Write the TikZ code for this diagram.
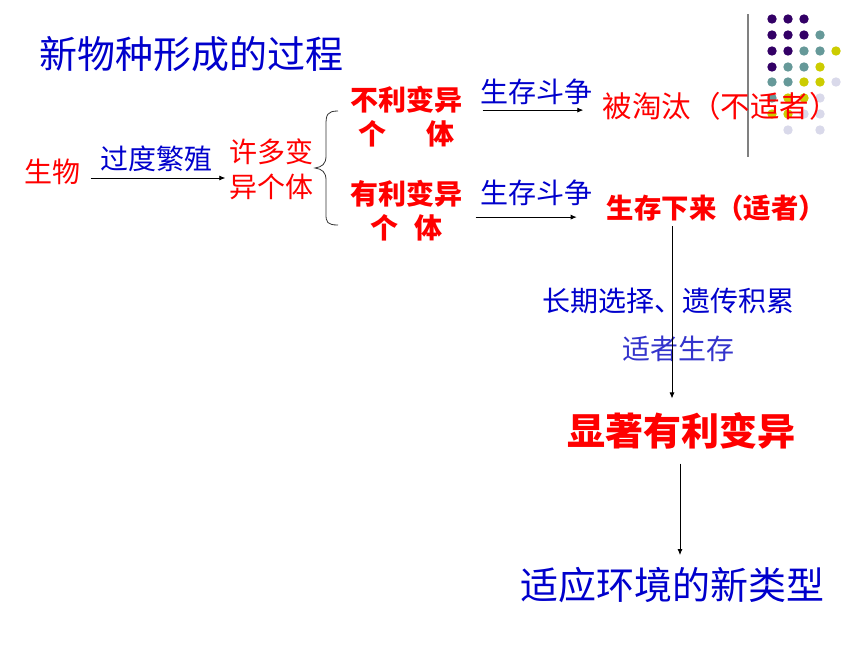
\documentclass[tikz,border=0pt]{standalone}
\usepackage{fontspec}
\setmainfont{Noto Sans CJK SC}
\usetikzlibrary{arrows.meta}
\definecolor{txtblue}{RGB}{0,0,204}
\definecolor{lightblue}{RGB}{51,51,204}
\definecolor{dotP}{RGB}{51,0,102}
\definecolor{dotT}{RGB}{102,153,153}
\definecolor{dotY}{RGB}{204,204,0}
\definecolor{dotL}{RGB}{217,217,234}
\definecolor{dotN}{RGB}{255,255,255}
\tikzset{
  redtxt/.style={text=red, inner sep=0pt, font=\fontsize{28}{35}\selectfont, align=center},
  redbold/.style={redtxt, font=\fontsize{28}{34}\selectfont\bfseries},
  bluetxt/.style={text=txtblue, inner sep=0pt, font=\fontsize{28}{34}\selectfont},
  bigtxt/.style={inner sep=0pt, font=\fontsize{38}{44}\selectfont},
  conn/.style={-{Latex[length=6pt,width=5pt]}, line width=0.8pt}
}
\begin{document}
\begin{tikzpicture}[x=1pt, y=-1pt]
\useasboundingbox (0,0) rectangle (860,645);
\fill[white] (0,0) rectangle (860,645);

% corner decoration
\draw[gray, line width=1.5pt] (748,14)--(748,157);
\foreach \y/\row in {19/{P,P,P,N,N}, 35/{P,P,P,T,N}, 51/{P,P,T,T,Y}, 67/{P,T,T,Y,N},
    82/{T,T,Y,Y,L}, 98/{T,Y,Y,L,N}, 114/{Y,Y,L,L,N}, 130/{N,L,N,L,N}}
  \foreach \c [count=\i from 0] in \row
    \fill[dot\c] (772+16*\i,\y) circle (4.7);

\node[bigtxt, text=txtblue] (title) at (191.5,54) {新物种形成的过程};

\node[redtxt] (sw) at (52.5,172) {生物};
\node[redtxt] (dy) at (271.5,169) {许多变\\异个体};
\node[bluetxt] (gd) at (156.5,159) {过度繁殖};

\node[redbold] (bl) at (406.5,117) {不利变异\\个\hspace{40pt}体};
\node[redbold] (yl) at (406.5,210.5) {有利变异\\个\hspace{16pt}体};
\draw[line width=0.8pt, black!80] (338,111) .. controls (327,111) and (326,115) .. (326,125) -- (326,156)
  .. controls (326,164) and (322,167) .. (315,168) .. controls (322,169) and (326,172) .. (326,180)
  -- (326,214) .. controls (326,222) and (327,225) .. (338,225);

\node[bluetxt] (dz1) at (536,92) {生存斗争};
\node[bluetxt] (dz2) at (536,193) {生存斗争};
\node[redtxt, font=\fontsize{29.5}{35}\selectfont] (tt) at (720.5,106) {被淘汰（不适者）};
\node[redbold, font=\fontsize{27.4}{34}\selectfont\bfseries] (sc) at (716.5,208) {生存下来（适者）};

\node[bluetxt] (xz) at (668.5,301) {长期选择、遗传积累};
\node[bluetxt, text=lightblue] (sz) at (678,349) {适者生存};
\node[bigtxt, text=red, font=\fontsize{38}{44}\selectfont\bfseries] (xy) at (681.5,431) {显著有利变异};
\node[bigtxt, text=txtblue] (xl) at (672,585) {适应环境的新类型};

\draw[conn, shorten <=10pt, shorten >=4pt] ([yshift=-6pt]sw.east) -- ([yshift=-6pt]sw.east -| dy.west);
\draw[conn, shorten <=20pt, shorten >=19pt] ([yshift=-5pt]dz1.south -| bl.east) -- ([yshift=-5pt]dz1.south -| tt.west);
\draw[conn, shorten <=13pt, shorten >=30pt] ([yshift=-11pt]dz2.south -| yl.east) -- ([yshift=-11pt]dz2.south -| sc.west);
\draw[conn, shorten <=5pt, shorten >=14pt] (sc.south -| 672,0) -- (xy.north -| 672,0);
\draw[conn, shorten <=14pt, shorten >=12pt] (xy.south -| 680,0) -- (xl.north -| 680,0);
\end{tikzpicture}
\end{document}
